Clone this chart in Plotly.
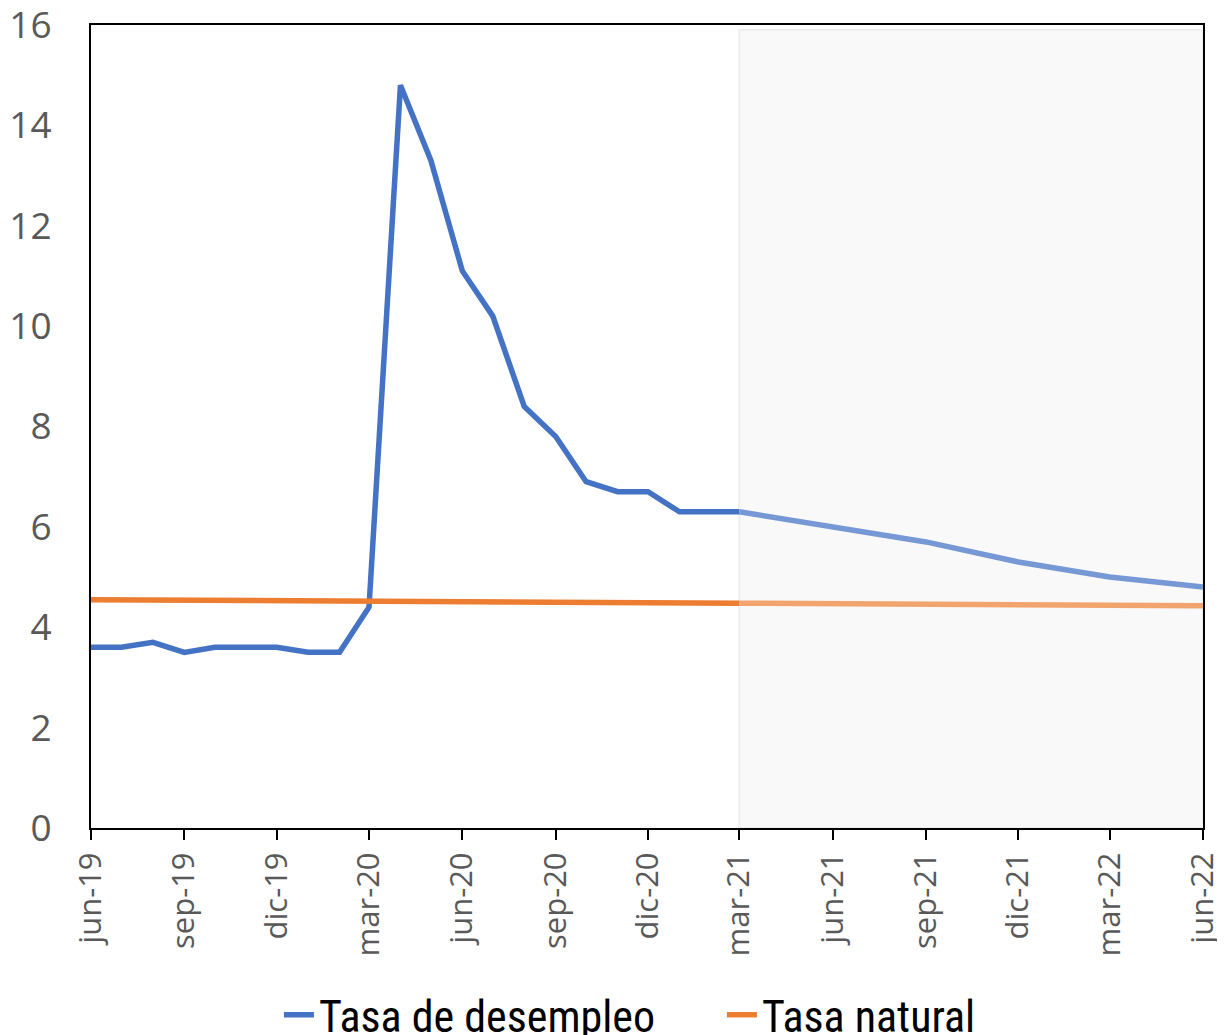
import plotly.graph_objects as go

# Actual data (monthly)
months_actual = ["2019-06-01", "2019-07-01", "2019-08-01", "2019-09-01", "2019-10-01", "2019-11-01",
                 "2019-12-01", "2020-01-01", "2020-02-01", "2020-03-01", "2020-04-01", "2020-05-01",
                 "2020-06-01", "2020-07-01", "2020-08-01", "2020-09-01", "2020-10-01", "2020-11-01",
                 "2020-12-01", "2021-01-01", "2021-02-01", "2021-03-01"]
desempleo_actual = [3.6, 3.6, 3.7, 3.5, 3.6, 3.6, 3.6, 3.5, 3.5, 4.4, 14.8, 13.3,
                    11.1, 10.2, 8.4, 7.8, 6.9, 6.7, 6.7, 6.3, 6.3, 6.3]

# Forecast (quarterly)
quarters_forecast = ["2021-03-01", "2021-06-01", "2021-09-01", "2021-12-01", "2022-03-01", "2022-06-01"]
desempleo_forecast = [6.3, 6.0, 5.7, 5.3, 5.0, 4.8]

# Natural rate (quarterly)
quarters_actual = ["2019-06-01", "2019-09-01", "2019-12-01", "2020-03-01", "2020-06-01",
                   "2020-09-01", "2020-12-01", "2021-03-01"]
natural_actual = [4.55, 4.54, 4.53, 4.52, 4.51, 4.50, 4.49, 4.48]
natural_forecast = [4.48, 4.47, 4.46, 4.45, 4.44, 4.43]

tick_vals = ["2019-06-01", "2019-09-01", "2019-12-01", "2020-03-01", "2020-06-01", "2020-09-01",
             "2020-12-01", "2021-03-01", "2021-06-01", "2021-09-01", "2021-12-01", "2022-03-01",
             "2022-06-01"]
tick_text = ["jun-19", "sep-19", "dic-19", "mar-20", "jun-20", "sep-20", "dic-20",
             "mar-21", "jun-21", "sep-21", "dic-21", "mar-22", "jun-22"]
y_ticks = [0, 2, 4, 6, 8, 10, 12, 14, 16]

BLUE = "#4472C4"
ORANGE = "#ED7D31"
BLUE_L = "#7698D4"
ORANGE_L = "#F2A46E"

fig = go.Figure()

fig.add_trace(go.Scatter(x=months_actual, y=desempleo_actual, mode="lines",
                         name="Tasa de desempleo", line=dict(color=BLUE, width=5.5),
                         legendgroup="d"))
fig.add_trace(go.Scatter(x=quarters_forecast, y=desempleo_forecast, mode="lines",
                         name="Tasa de desempleo", line=dict(color=BLUE_L, width=5.5),
                         showlegend=False, legendgroup="d"))
fig.add_trace(go.Scatter(x=quarters_actual, y=natural_actual, mode="lines",
                         name="Tasa natural", line=dict(color=ORANGE, width=5.5),
                         legendgroup="n"))
fig.add_trace(go.Scatter(x=quarters_forecast, y=natural_forecast, mode="lines",
                         name="Tasa natural", line=dict(color=ORANGE_L, width=5.5),
                         showlegend=False, legendgroup="n"))

fig.add_shape(type="rect", xref="x", yref="y",
              x0=quarters_forecast[0], x1=quarters_forecast[-1], y0=0, y1=15.9,
              fillcolor="#F9F9F9", line=dict(color="#EEEEEE", width=2), layer="below")

xtick_font = dict(family="Open Sans, DejaVu Sans, sans-serif", size=31, color="#595959")
ytick_font = dict(family="Open Sans, DejaVu Sans, sans-serif", size=37, color="#595959")

# The page body has an 8px margin, so the figure is offset by 8px.
fig.update_layout(
    width=1217, height=1027,
    margin=dict(l=83, r=22, t=17, b=207, autoexpand=False),
    paper_bgcolor="white", plot_bgcolor="white",
    showlegend=True,
    legend=dict(orientation="h", x=0.169, xanchor="left", y=-0.233, yanchor="middle",
                font=dict(family="Liberation Sans Narrow, Arial Narrow, Roboto Condensed, sans-serif",
                          size=44, color="black"),
                entrywidth=398, entrywidthmode="pixels", tracegroupgap=0),
    xaxis=dict(type="date", range=[tick_vals[0], tick_vals[-1]], automargin=False,
               tickmode="array", tickvals=tick_vals, ticktext=tick_text,
               tickangle=-90, tickfont=xtick_font, ticklabeloverflow="allow",
               showgrid=False, zeroline=False,
               showline=True, linecolor="black", linewidth=2, mirror=True,
               ticks="outside", ticklen=10, tickcolor="black", tickwidth=2),
    yaxis=dict(range=[0, 16], tickmode="array", tickvals=y_ticks,
               automargin=False, ticklabeloverflow="allow",
               tickfont=ytick_font, showgrid=False, zeroline=False,
               showline=True, linecolor="black", linewidth=2, mirror=True,
               ticks="", ticklabelstandoff=30),
)

fig.write_html("out.html")
